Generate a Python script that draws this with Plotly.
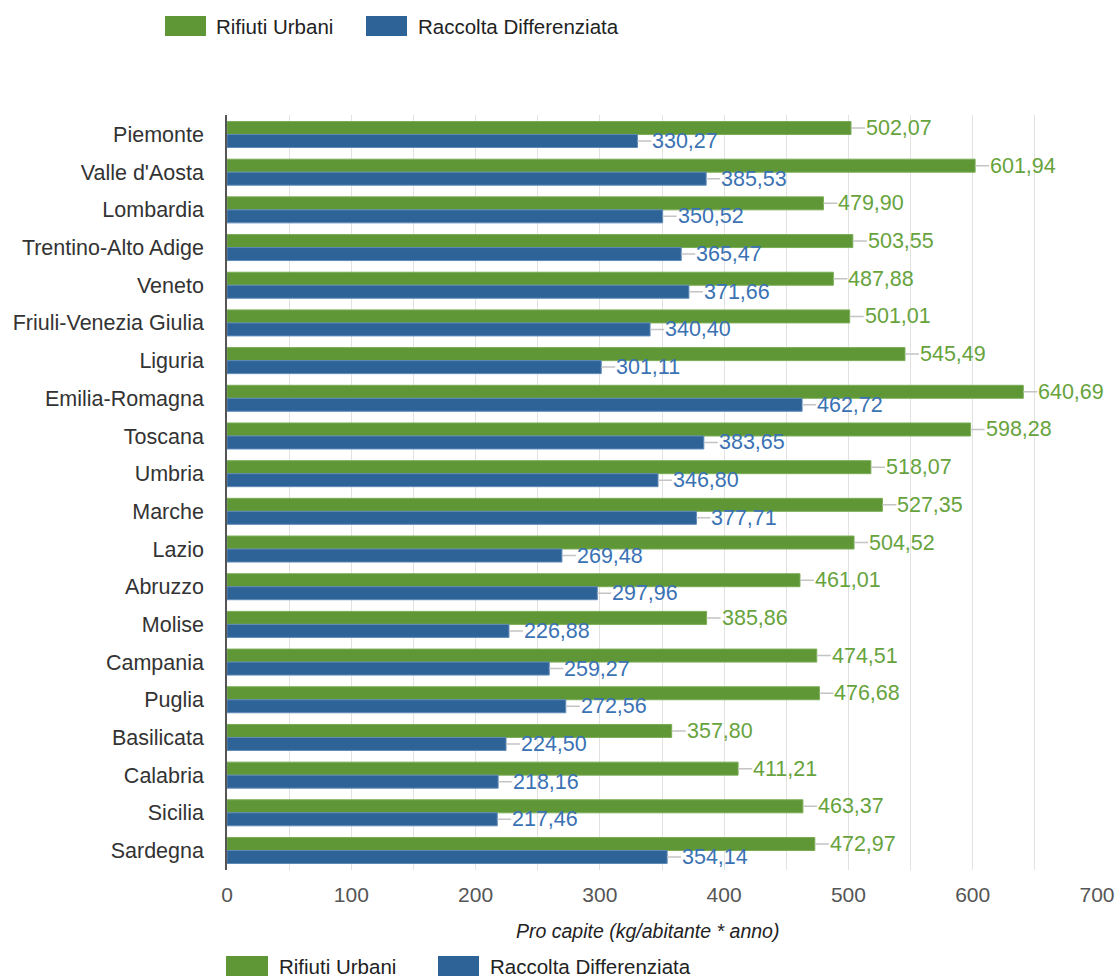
import plotly.graph_objects as go

# Regional per-capita figures (kg per inhabitant per year)
regioni = [
    "Piemonte", "Valle d'Aosta", "Lombardia", "Trentino-Alto Adige", "Veneto",
    "Friuli-Venezia Giulia", "Liguria", "Emilia-Romagna", "Toscana", "Umbria",
    "Marche", "Lazio", "Abruzzo", "Molise", "Campania", "Puglia", "Basilicata",
    "Calabria", "Sicilia", "Sardegna",
]
rifiuti_urbani = [
    502.07, 601.94, 479.90, 503.55, 487.88, 501.01, 545.49, 640.69, 598.28, 518.07,
    527.35, 504.52, 461.01, 385.86, 474.51, 476.68, 357.80, 411.21, 463.37, 472.97,
]
raccolta_differenziata = [
    330.27, 385.53, 350.52, 365.47, 371.66, 340.40, 301.11, 462.72, 383.65, 346.80,
    377.71, 269.48, 297.96, 226.88, 259.27, 272.56, 224.50, 218.16, 217.46, 354.14,
]
x_ticks = [0, 100, 200, 300, 400, 500, 600, 700]
titolo_asse = "Pro capite (kg/abitante * anno)"

serie = [
    ("Rifiuti Urbani", rifiuti_urbani, "#5f9737", "#7aad55", "#67a33d"),
    ("Raccolta Differenziata", raccolta_differenziata, "#2e6398", "#5f8ab8", "#3a72b3"),
]

FONT = "Liberation Sans, Arial, Helvetica, sans-serif"
W, H = 1117, 978
ML, MR, MT, MB = 227, 20, 115, 108
PW, PH = W - ML - MR, H - MT - MB


def px_x(px):
    return (px - ML) / PW


def px_y(py):
    return (H - MB - py) / PH


fig = go.Figure()
for nome, valori, colore, bordo, _ in serie:
    fig.add_trace(go.Bar(
        y=regioni, x=valori, name=nome, orientation="h",
        marker=dict(color=colore, line=dict(color=bordo, width=1)),
        showlegend=False, hoverinfo="x+y",
    ))

# value labels with a short leader line from the end of each bar
annotations = []
for i, (nome, valori, _, _, col_testo) in enumerate(serie):
    shift = 6.5 if i == 0 else -6.5
    for reg, v in zip(regioni, valori):
        annotations.append(dict(
            x=v, y=reg, xref="x", yref="y", yshift=shift,
            text=f"{v:.2f}".replace(".", ","),
            showarrow=True, arrowhead=0, arrowwidth=1.5, arrowcolor="#c4c4c4",
            ax=14, ay=0, standoff=0, xanchor="left", yanchor="middle",
            borderpad=0,
            font=dict(family=FONT, size=21.5, color=col_testo),
        ))

# axis title, set slightly left of the plot centre
annotations.append(dict(
    x=px_x(647), y=px_y(931), xref="paper", yref="paper",
    text=f"<i>{titolo_asse}</i>", showarrow=False,
    xanchor="center", yanchor="middle",
    font=dict(family=FONT, size=19.5, color="#222222"),
))

# two legend rows (above and below the plot), drawn as swatches + labels
shapes = []
legende = [
    (26, [(165, 206, 214), (366, 407, 416)]),
    (966, [(226, 268, 277), (438, 479, 488)]),
]
for cy, voci in legende:
    for (x0, x1, xt), (nome, _, colore, _, _) in zip(voci, serie):
        shapes.append(dict(
            type="rect", xref="paper", yref="paper",
            x0=px_x(x0), x1=px_x(x1), y0=px_y(cy + 10), y1=px_y(cy - 10),
            fillcolor=colore, line=dict(width=0), layer="above",
        ))
        annotations.append(dict(
            x=px_x(xt), y=px_y(cy), xref="paper", yref="paper",
            text=nome, showarrow=False, xanchor="left", yanchor="middle",
            font=dict(family=FONT, size=20.5, color="#222222"),
        ))

fig.update_layout(
    width=W, height=H,
    margin=dict(l=ML, r=MR, t=MT, b=MB, autoexpand=False),
    paper_bgcolor="white", plot_bgcolor="white",
    barmode="group", bargap=0.31, bargroupgap=0,
    separators=",.",
    font=dict(family=FONT, size=20, color="#333333"),
    annotations=annotations, shapes=shapes,
    xaxis=dict(
        range=[0, 700], tickvals=x_ticks, ticktext=[str(t) for t in x_ticks],
        showgrid=True, gridcolor="#e2e2e2", gridwidth=1,
        minor=dict(dtick=50, showgrid=True, gridcolor="#e2e2e2", gridwidth=1),
        zeroline=False, showline=False, ticks="", automargin=False,
        tickfont=dict(family=FONT, size=21, color="#555555"),
        ticklabelstandoff=10,
    ),
    yaxis=dict(
        autorange="reversed", showgrid=False, zeroline=False,
        showline=True, linecolor="#555555", linewidth=1.5,
        ticks="", ticklabelstandoff=17, automargin=False,
        tickfont=dict(family=FONT, size=21.5, color="#333333"),
    ),
)

fig.write_html("out.html")
